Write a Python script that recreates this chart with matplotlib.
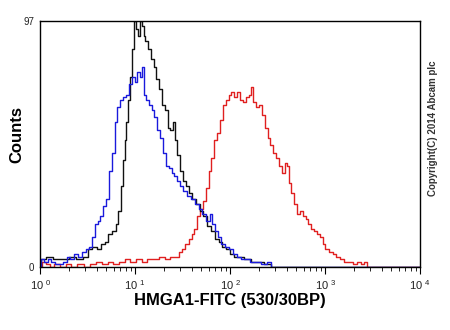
import numpy as np
import matplotlib
matplotlib.use("Agg")
import matplotlib.pyplot as plt

plt.rcParams['font.family'] = ['Liberation Sans', 'DejaVu Sans']
plt.rcParams['mathtext.fontset'] = 'custom'
plt.rcParams['mathtext.rm'] = 'Liberation Sans'

# ------------------------------------------------------------
# Histogram data (log10 intensity, counts)
# ------------------------------------------------------------
black_log = [0.00, 0.02, 0.10, 0.18, 0.26, 0.34, 0.42, 0.48, 0.52, 0.58, 0.62, 0.66,
             0.70, 0.74, 0.78, 0.81, 0.84, 0.86, 0.88, 0.90, 0.92, 0.94, 0.96, 0.98,
             1.00, 1.02, 1.04, 1.06, 1.08, 1.10, 1.12, 1.15, 1.18, 1.21, 1.24, 1.27,
             1.30, 1.33, 1.36, 1.38, 1.41, 1.43, 1.46, 1.49, 1.52, 1.55, 1.58, 1.62,
             1.66, 1.70, 1.74, 1.78, 1.82, 1.86, 1.90, 1.94, 1.98, 2.02, 2.06, 2.12,
             2.18, 2.25, 2.32, 2.40, 2.46, 4.00]
black_cnt = [0, 3, 4, 3, 3, 4, 3, 4, 7, 8, 7, 9,
             10, 13, 14, 17, 22, 32, 42, 50, 57, 66, 75, 86,
             97, 94, 91, 97, 95, 91, 89, 86, 82, 79, 74, 70,
             64, 62, 55, 54, 57, 50, 44, 38, 34, 32, 29, 27,
             25, 22, 20, 16, 14, 11, 10, 8, 7, 5, 4, 4,
             3, 2, 2, 1, 0, 0]

blue_log = [0.00, 0.02, 0.06, 0.10, 0.14, 0.18, 0.22, 0.26, 0.30, 0.34, 0.38, 0.42,
            0.46, 0.50, 0.53, 0.56, 0.59, 0.62, 0.65, 0.68, 0.71, 0.74, 0.77, 0.80,
            0.83, 0.86, 0.89, 0.92, 0.95, 0.98, 1.01, 1.04, 1.06, 1.08, 1.10, 1.13,
            1.16, 1.19, 1.22, 1.25, 1.28, 1.31, 1.34, 1.37, 1.40, 1.43, 1.46, 1.49,
            1.53, 1.57, 1.61, 1.65, 1.69, 1.73, 1.77, 1.80, 1.83, 1.86, 1.89, 1.93,
            1.97, 2.01, 2.05, 2.09, 2.14, 2.19, 2.24, 2.30, 2.36, 2.42, 2.45, 4.00]
blue_cnt = [0, 3, 2, 3, 2, 1, 1, 2, 4, 3, 5, 4,
            6, 7, 8, 12, 17, 18, 20, 24, 27, 38, 45, 57,
            63, 66, 67, 68, 72, 75, 73, 77, 75, 79, 68, 66,
            64, 62, 59, 54, 51, 45, 40, 39, 37, 36, 34, 32,
            30, 28, 27, 25, 23, 21, 18, 21, 17, 14, 12, 9,
            8, 7, 5, 4, 3, 3, 2, 2, 1, 2, 0, 0]

red_log = [0.00, 0.04, 0.08, 0.12, 0.18, 0.24, 0.30, 0.36, 0.42, 0.50, 0.56, 0.62,
           0.68, 0.74, 0.80, 0.86, 0.92, 0.98, 1.04, 1.10, 1.16, 1.22, 1.28, 1.34,
           1.40, 1.44, 1.48, 1.51, 1.55, 1.58, 1.61, 1.64, 1.67, 1.70, 1.73, 1.76,
           1.79, 1.82, 1.85, 1.88, 1.91, 1.94, 1.97, 2.00, 2.03, 2.06, 2.09, 2.12,
           2.15, 2.18, 2.21, 2.23, 2.26, 2.29, 2.32, 2.35, 2.38, 2.41, 2.44, 2.47,
           2.50, 2.53, 2.56, 2.59, 2.61, 2.63, 2.66, 2.69, 2.72, 2.75, 2.78, 2.81,
           2.84, 2.87, 2.90, 2.93, 2.96, 2.99, 3.02, 3.06, 3.10, 3.14, 3.18, 3.22,
           3.27, 3.32, 3.36, 3.40, 3.43, 3.46, 4.00]
red_cnt = [0, 2, 1, 0, 1, 0, 1, 0, 1, 0, 1, 2,
           1, 2, 1, 2, 3, 2, 3, 2, 3, 3, 4, 3,
           4, 4, 6, 7, 9, 11, 13, 15, 20, 23, 26, 31,
           38, 43, 50, 53, 58, 64, 66, 68, 69, 67, 69, 66,
           65, 67, 68, 71, 65, 63, 64, 60, 55, 51, 48, 45,
           43, 40, 37, 41, 40, 33, 29, 25, 21, 22, 20, 19,
           17, 15, 14, 13, 12, 9, 7, 6, 5, 4, 3, 2,
           2, 1, 2, 1, 2, 0, 0]

decades = [0, 1, 2, 3, 4]
y_max = 97

# ------------------------------------------------------------
# Plot
# ------------------------------------------------------------
fig = plt.figure(figsize=(4.5, 3.3), dpi=100)
ax = fig.add_axes([0.0889, 0.1909, 0.8444, 0.7455])

for logs, cnts, col in [(red_log, red_cnt, '#e02020'),
                        (black_log, black_cnt, '#111111'),
                        (blue_log, blue_cnt, '#1a1adc')]:
    ax.plot(10 ** np.array(logs), cnts, color=col, lw=1.0, drawstyle='steps-mid')

ax.set_xscale('log')
ax.set_xlim(10 ** decades[0], 10 ** decades[-1])
ax.set_ylim(0, y_max)

ax.set_xticks([10 ** d for d in decades])
ax.set_xticklabels([r'10$^{\ %d}$' % d for d in decades], color='#222222')
ax.set_yticks([0, y_max])
ax.set_yticklabels(['0', str(y_max)], color='#222222')
ax.tick_params(axis='y', length=0, labelsize=7, pad=4)
ax.tick_params(axis='x', which='major', direction='out', length=5, labelsize=8, pad=3)
ax.tick_params(axis='x', which='minor', direction='out', length=3)

for sp in ax.spines.values():
    sp.set_linewidth(1.0)

ax.set_xlabel('HMGA1-FITC (530/30BP)', fontsize=12, fontweight='bold', labelpad=1)
ax.set_ylabel('Counts', fontsize=12, fontweight='bold')
ax.yaxis.set_label_coords(-0.042, 0.54)

fig.text(0.962, 0.61, 'Copyright(C) 2014 Abcam plc', rotation=90,
         fontsize=7, fontweight='bold', color='#333333', ha='center', va='center')

fig.savefig('out.png', dpi=100)
